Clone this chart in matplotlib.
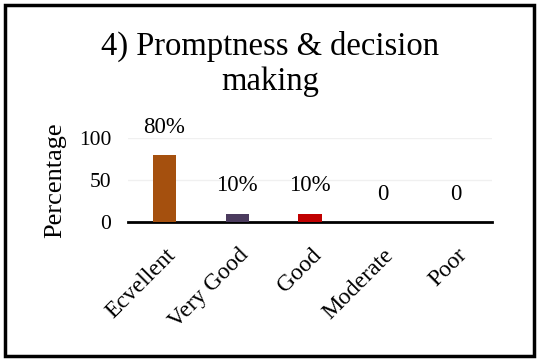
import matplotlib
matplotlib.use("Agg")
import matplotlib.pyplot as plt
from matplotlib.patches import Rectangle

categories = ["Ecvellent", "Very Good", "Good", "Moderate", "Poor"]
values = [80, 10, 10, 0, 0]
value_labels = ["80%", "10%", "10%", "0", "0"]
bar_colors = ["#A5500E", "#4B3B5E", "#C00000", "#A5500E", "#A5500E"]
yticks = [0, 50, 100]

plt.rcParams['font.family'] = ['Liberation Serif', 'DejaVu Serif']

fig = plt.figure(figsize=(5.37, 3.60), dpi=100)
W, H = 537, 360
ax = fig.add_axes([128 / W, 1 - 222 / H, 364 / W, 84 / H])

x = list(range(len(categories)))
ax.bar(x, values, width=0.32, color=bar_colors, zorder=3)
ax.set_xlim(-0.5, len(categories) - 0.5)
ax.set_ylim(0, 100)
ax.set_yticks(yticks)
ax.set_yticklabels([str(t) for t in yticks], fontsize=15.5)
ax.set_xticks(x)
ax.set_xticklabels([])
for xi, cat in zip(x, categories):
    ax.annotate(cat, (xi, 0), xycoords=('data', 'axes fraction'),
                xytext=(5.8, -21.6), textcoords='offset points',
                rotation=45, ha='right', va='center', rotation_mode='anchor',
                fontsize=17, annotation_clip=False)
ax.tick_params(axis='both', length=0)
ax.tick_params(axis='y', pad=12)
for s in ['top', 'right', 'left']:
    ax.spines[s].set_visible(False)
ax.spines['bottom'].set_linewidth(2)
ax.grid(axis='y', color='#F0F0F0', linewidth=1, zorder=0)
ax.set_axisbelow(True)
ax.set_ylabel("Percentage", fontsize=19, labelpad=9)

for xi, v, lab in zip(x, values, value_labels):
    ax.annotate(lab, (xi, v), xytext=(0, 20), textcoords='offset points',
                ha='center', va='center', fontsize=16.5, annotation_clip=False)

fig.text(270 / W, 1 - 64 / H, "4) Promptness & decision\nmaking", ha='center',
         va='center', fontsize=23.5, linespacing=1.2)

fig.patches.append(Rectangle((4.5 / W, 4.5 / H), 529 / W, 351 / H,
                             transform=fig.transFigure, fill=False,
                             edgecolor='black', linewidth=2.5))

fig.savefig("out.png", dpi=100)
